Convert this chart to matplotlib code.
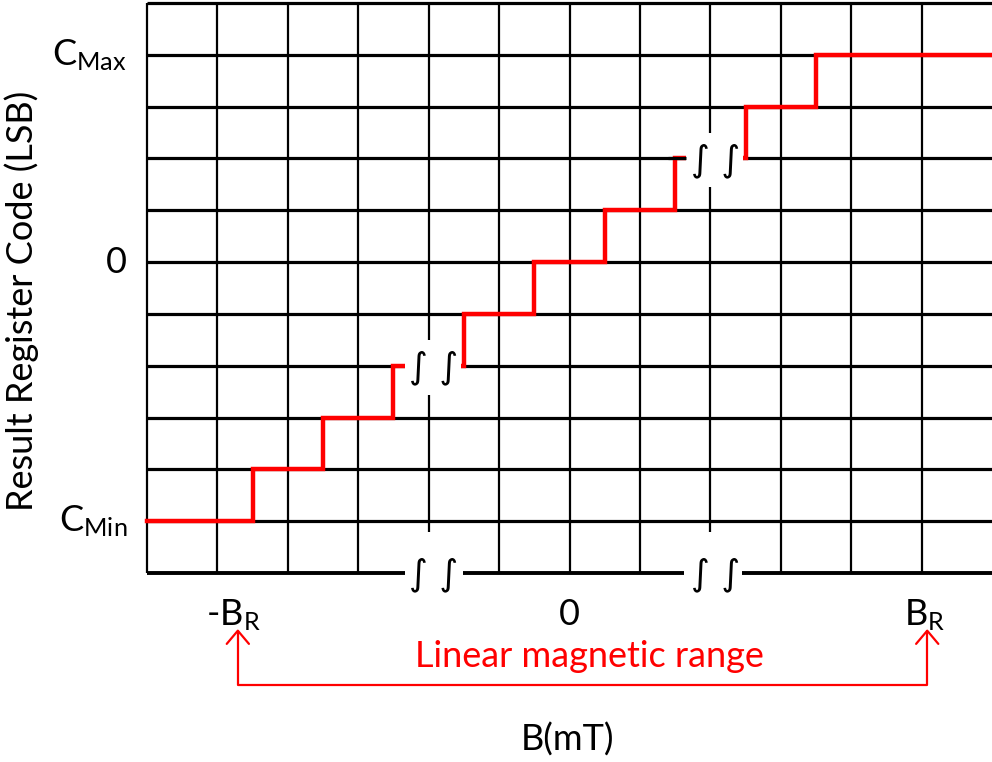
import matplotlib
matplotlib.use("Agg")
import matplotlib.pyplot as plt
from matplotlib.patches import Rectangle, FancyArrowPatch
from matplotlib.path import Path

plt.rcParams['font.family'] = ['Lato', 'DejaVu Sans']
plt.rcParams['mathtext.fontset'] = 'custom'
plt.rcParams['mathtext.rm'] = 'Lato'
plt.rcParams['mathtext.it'] = 'Lato'

# ---- data (grid units) ----
n_cols = 12                      # vertical divisions on x
n_rows = 11                      # horizontal divisions on y
step_x = [1.5, 2.5, 3.5, 4.5, 5.5, 6.5, 7.5, 8.5, 9.5]   # code transitions
levels = [1, 2, 3, 4, 5, 6, 7, 8, 9, 10]                  # output codes (C_Min..C_Max)
break_x = [4, 8]                 # axis / staircase breaks
break_level = [4, 8]
ytick_pos = [10, 6, 1]
ytick_lbl = [r'C$_{\mathrm{Max}}$', '0', r'C$_{\mathrm{Min}}$']
xtick_pos = [1.22, 6.0, 11.04]
xtick_lbl = [r'-B$_{\mathrm{R}}$', '0', r'B$_{\mathrm{R}}$']
range_x = [1.29, 11.08]          # linear magnetic range arrows

RED = '#FF0000'
FS = 26
INT = '\u222b \u222b'

fig = plt.figure(figsize=(9.92, 7.62), dpi=100)
ax = fig.add_axes([147/992, (762-573)/762, (992-147)/992, 570/762])
ax.set_xlim(0, n_cols)
ax.set_ylim(0, n_rows)
ax.axis('off')

# grid
for yv in range(1, n_rows + 1):
    ax.plot([0, n_cols], [yv, yv], color='black', lw=2.3, solid_capstyle='butt',
            zorder=2, clip_on=False)
for xv in range(0, n_cols):
    ax.plot([xv, xv], [0, n_rows], color='black', lw=1.6, solid_capstyle='butt',
            zorder=2, clip_on=False)
ax.plot([0, n_cols], [0, 0], color='black', lw=2.8, solid_capstyle='butt', zorder=2,
        clip_on=False)

# staircase
sx = [0] + step_x + [n_cols]
sy = levels + [levels[-1]]
ax.plot(sx, sy, drawstyle='steps-post', color=RED, lw=3.2, zorder=3,
        solid_joinstyle='miter', clip_on=False)

# breaks
for i, (bx, bl) in enumerate(zip(break_x, break_level)):
    left = bx - 0.34
    ax.add_patch(Rectangle((left, bl - 0.56), bx + 0.46 - left, 1.06,
                           facecolor='white', edgecolor='none', zorder=4))
    if i == 1:
        ax.plot([bx - 0.6, left], [bl, bl], color='black', lw=2.3,
                solid_capstyle='butt', zorder=5)
    ax.text(bx + 0.07, bl - 0.04, INT, ha='center', va='center', fontsize=26,
            family=['DejaVu Sans'], zorder=6)
    # bottom axis break
    bl_left = bx - 0.34 - (0.04 if i == 1 else 0)
    ax.add_patch(Rectangle((bl_left, -0.2), 0.83, 0.99, facecolor='white',
                           edgecolor='none', zorder=4, clip_on=False))
    ax.text(bx + 0.07, -0.04, INT, ha='center', va='center', fontsize=26,
            family=['DejaVu Sans'], zorder=6)

# y tick labels
for yp, lbl in zip(ytick_pos, ytick_lbl):
    ax.text(-0.28, yp, lbl, ha='right', va='center', fontsize=FS, clip_on=False)

# x tick labels
for xp, lbl in zip(xtick_pos, xtick_lbl):
    ax.text(xp, -1.0, lbl, ha='center', va='baseline', fontsize=FS, clip_on=False)

# linear range bracket
y_bot = -2.16
y_tip = -1.08
path = Path([(range_x[0], y_tip), (range_x[0], y_bot), (range_x[1], y_bot),
             (range_x[1], y_tip)],
            [Path.MOVETO, Path.LINETO, Path.LINETO, Path.LINETO])
arr = FancyArrowPatch(path=path, arrowstyle='<->,head_length=9.5,head_width=8',
                      mutation_scale=1, color=RED, lw=1.6, clip_on=False,
                      transform=ax.transData)
ax.add_patch(arr)
ax.text(6.29, -1.815, 'Linear magnetic range', color=RED, ha='center', va='baseline',
        fontsize=FS, clip_on=False)

# axis titles
ax.text(5.97, -3.42, 'B(mT)', ha='center', va='baseline', fontsize=FS, clip_on=False)
fig.text(22/992, 1 - 301/762, 'Result Register Code (LSB)', rotation=90,
         ha='center', va='center', fontsize=FS)

fig.savefig('out.png', dpi=100)
